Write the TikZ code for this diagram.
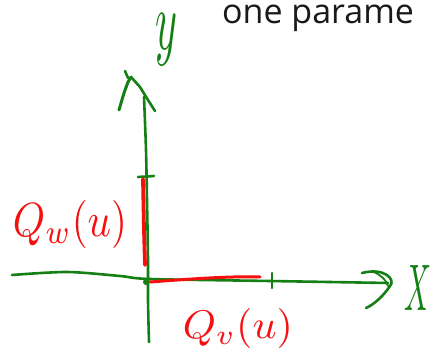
\documentclass[tikz,border=0pt]{standalone}
\usepackage{fontspec}
\newfontfamily\titlefont{Open Sans}
\definecolor{axgreen}{RGB}{20,128,20}
\definecolor{inkred}{RGB}{245,15,15}
\begin{document}
\begin{tikzpicture}[x=1pt,y=-1pt,
  axis/.style={draw=axgreen,line width=2.6pt,line cap=round,line join=round},
  redink/.style={draw=inkred,line width=3pt,line cap=round,line join=round},
  greenlabel/.style={text=axgreen,inner sep=0},
  redlabel/.style={text=inkred,inner sep=0}]
\useasboundingbox (0,0) rectangle (436,350);
% title fragment
\node[anchor=base west,inner sep=0,font=\titlefont\fontsize{34}{40}\selectfont,text=black!90] (title) at (222,24) {one parame};
% y axis
\draw[axis] plot[smooth] coordinates {(144,97) (146,150) (147,200) (148,260) (148,300) (149,342)};
\draw[axis,line width=3pt] (119,110) -- (124,93) -- (128,82) -- (131,77);
\draw[axis] (125,71) -- (128,78);
\draw[axis] (131,77) -- (140,87) -- (148,100) -- (155,111);
\draw[axis] (138,177) -- (154,176);
% x axis
\draw[axis] plot[smooth] coordinates {(12,275) (67,272) (120,276) (150,279) (270,281) (388,283)};
\draw[axis] (362,273) .. controls (385,267) and (396,280) .. (390,286) .. controls (384,295) and (375,304) .. (366,308);
\draw[axis,line width=1.8pt] (374,272) .. controls (382,276) and (386,280) .. (388,286);
\draw[axis] (272,273) -- (272,288);
\fill[axgreen] (146,282) circle (3);
% red segments
\draw[redink,line width=3.8pt] (143,179) -- (144,230) -- (145,265);
\draw[redink] (150,282) .. controls (190,279) and (230,276) .. (260,277);
% labels
\node[greenlabel] (ylab) at (167,40) {\resizebox*{22pt}{52pt}{$y$}};
\node[greenlabel] (xlab) at (418,288) {\resizebox*{27pt}{45pt}{$X$}};
\node[redlabel] (qw) at (70,224) {\resizebox*{114pt}{48pt}{$Q_w(u)$}};
\node[redlabel] (qv) at (238,328) {\resizebox*{110pt}{40pt}{$Q_v(u)$}};
\end{tikzpicture}
\end{document}
